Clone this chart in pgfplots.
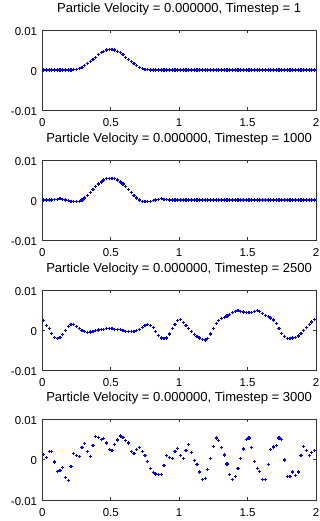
\documentclass[border=0pt]{standalone}
\usepackage{pgfplots}
\pgfplotsset{compat=1.18}
\usepackage{fontspec}
\setmainfont{Liberation Sans}
\pgfplotsset{
  octstyle/.style={
    scale only axis, width=273.7bp, height=80bp,
    xmin=0, xmax=2, ymin=-0.01, ymax=0.01,
    xtick={0,0.5,1,1.5,2}, xticklabels={0,0.5,1,1.5,2},
    ytick={-0.01,0,0.01}, yticklabels={-0.01,0,0.01},
    tick align=inside, major tick length=3bp,
    axis line style={line width=0.5bp, black!80},
    every tick/.style={black!80, line width=0.5bp},
    tick label style={font=\fontsize{11.5}{12}\selectfont, inner sep=0pt},
    xticklabel style={yshift=-8bp},
    yticklabel style={xshift=-5bp, yshift=-1.5bp},
    title style={font=\fontsize{13.1}{14}\selectfont, at={(0.5,1)}, anchor=base, yshift=11.5bp, inner sep=0pt},
    scaled y ticks=false,
    clip=false,
  },
  ptstyle/.style={only marks, mark=+, color=blue, mark size=1.6bp, mark options={line width=1.2bp}},
}
\begin{document}
\begin{tikzpicture}
\path[use as bounding box] (0,0) rectangle (320bp,-521bp);
% ---------------- plot 1
\begin{axis}[octstyle, at={(42.3bp,-30bp)}, anchor=north west,
  title={Particle Velocity = 0.000000, Timestep = 1}]
\addplot[ptstyle] coordinates {
(0.01,0)(0.03,0)(0.05,0)(0.07,0)(0.09,0)(0.11,0)(0.13,0)(0.15,0)(0.17,0)(0.19,0)
(0.21,0.0000)(0.23,0.0001)(0.25,0.0002)(0.27,0.0004)(0.29,0.0007)(0.31,0.0011)(0.33,0.0016)(0.35,0.0021)(0.37,0.0027)(0.39,0.0032)
(0.41,0.0038)(0.43,0.0043)(0.45,0.0047)(0.47,0.0050)(0.49,0.0052)(0.51,0.0052)(0.53,0.0050)(0.55,0.0047)(0.57,0.0043)(0.59,0.0038)
(0.61,0.0032)(0.63,0.0027)(0.65,0.0021)(0.67,0.0016)(0.69,0.0011)(0.71,0.0007)(0.73,0.0004)(0.75,0.0002)(0.77,0.0001)(0.79,0.0000)
(0.81,0)(0.83,0)(0.85,0)(0.87,0)(0.89,0)(0.91,0)(0.93,0)(0.95,0)(0.97,0)(0.99,0)
(1.01,0)(1.03,0)(1.05,0)(1.07,0)(1.09,0)(1.11,0)(1.13,0)(1.15,0)(1.17,0)(1.19,0)
(1.21,0)(1.23,0)(1.25,0)(1.27,0)(1.29,0)(1.31,0)(1.33,0)(1.35,0)(1.37,0)(1.39,0)
(1.41,0)(1.43,0)(1.45,0)(1.47,0)(1.49,0)(1.51,0)(1.53,0)(1.55,0)(1.57,0)(1.59,0)
(1.61,0)(1.63,0)(1.65,0)(1.67,0)(1.69,0)(1.71,0)(1.73,0)(1.75,0)(1.77,0)(1.79,0)
(1.81,0)(1.83,0)(1.85,0)(1.87,0)(1.89,0)(1.91,0)(1.93,0)(1.95,0)(1.97,0)(1.99,0)
};
\end{axis}
% ---------------- plot 2
\begin{axis}[octstyle, at={(42.3bp,-160bp)}, anchor=north west,
  title={Particle Velocity = 0.000000, Timestep = 1000}]
\addplot[ptstyle] coordinates {
(0.01,0)(0.03,0)(0.05,0)(0.07,0)(0.09,0.0001)(0.11,0.0002)(0.13,0.0003)(0.15,0.0002)(0.17,0.0000)(0.19,-0.0002)
(0.21,-0.0003)(0.23,-0.0004)(0.25,-0.0004)(0.27,-0.0003)(0.29,0.0000)(0.31,0.0005)(0.33,0.0011)(0.35,0.0018)(0.37,0.0026)(0.39,0.0033)
(0.41,0.0040)(0.43,0.0045)(0.45,0.0050)(0.47,0.0053)(0.49,0.0054)(0.51,0.0054)(0.53,0.0053)(0.55,0.0050)(0.57,0.0045)(0.59,0.0040)
(0.61,0.0033)(0.63,0.0026)(0.65,0.0018)(0.67,0.0011)(0.69,0.0005)(0.71,0.0000)(0.73,-0.0003)(0.75,-0.0004)(0.77,-0.0004)(0.79,-0.0003)
(0.81,-0.0002)(0.83,0.0000)(0.85,0.0002)(0.87,0.0003)(0.89,0.0002)(0.91,0.0001)(0.93,0)(0.95,0)(0.97,0)(0.99,0)
(1.01,0)(1.03,0)(1.05,0)(1.07,0)(1.09,0)(1.11,0)(1.13,0)(1.15,0)(1.17,0)(1.19,0)
(1.21,0)(1.23,0)(1.25,0)(1.27,0)(1.29,0)(1.31,0)(1.33,0)(1.35,0)(1.37,0)(1.39,0)
(1.41,0)(1.43,0)(1.45,0)(1.47,0)(1.49,0)(1.51,0)(1.53,0)(1.55,0)(1.57,0)(1.59,0)
(1.61,0)(1.63,0)(1.65,0)(1.67,0)(1.69,0)(1.71,0)(1.73,0)(1.75,0)(1.77,0)(1.79,0)
(1.81,0)(1.83,0)(1.85,0)(1.87,0)(1.89,0)(1.91,0)(1.93,0)(1.95,0)(1.97,0)(1.99,0)
};
\end{axis}
% ---------------- plot 3
\begin{axis}[octstyle, at={(42.3bp,-290bp)}, anchor=north west,
  title={Particle Velocity = 0.000000, Timestep = 2500}]
\addplot[ptstyle] coordinates {
(0.01,0.0023)(0.03,0.0012)(0.05,0.0003)(0.07,-0.0009)(0.09,-0.0019)(0.11,-0.0021)(0.13,-0.0018)(0.15,-0.0011)(0.17,-0.0001)(0.19,0.0009)
(0.21,0.0014)(0.23,0.0014)(0.25,0.0009)(0.27,0.0003)(0.29,-0.0002)(0.31,-0.0004)(0.33,-0.0006)(0.35,-0.0005)(0.37,-0.0003)(0.39,-0.0001)
(0.41,0.0000)(0.43,0.0001)(0.45,0.0002)(0.47,0.0003)(0.49,0.0003)(0.51,0.0003)(0.53,0.0002)(0.55,0.0002)(0.57,0.0001)(0.59,-0.0001)
(0.61,-0.0003)(0.63,-0.0004)(0.65,-0.0004)(0.67,-0.0004)(0.69,-0.0002)(0.71,0.0002)(0.73,0.0007)(0.75,0.0011)(0.77,0.0013)(0.79,0.0011)
(0.81,0.0006)(0.83,-0.0003)(0.85,-0.0013)(0.87,-0.0020)(0.89,-0.0022)(0.91,-0.0020)(0.93,-0.0010)(0.95,0.0003)(0.97,0.0014)(0.99,0.0023)
(1.01,0.0026)(1.03,0.0019)(1.05,0.0012)(1.07,0.0004)(1.09,-0.0004)(1.11,-0.0011)(1.13,-0.0016)(1.15,-0.0020)(1.17,-0.0023)(1.19,-0.0025)
(1.21,-0.0021)(1.23,-0.0010)(1.25,0.0004)(1.27,0.0017)(1.29,0.0024)(1.31,0.0029)(1.33,0.0032)(1.35,0.0035)(1.37,0.0039)(1.39,0.0043)
(1.41,0.0046)(1.43,0.0048)(1.45,0.0046)(1.47,0.0045)(1.49,0.0044)(1.51,0.0044)(1.53,0.0044)(1.55,0.0046)(1.57,0.0048)(1.59,0.0047)
(1.61,0.0042)(1.63,0.0036)(1.65,0.0033)(1.67,0.0030)(1.69,0.0025)(1.71,0.0016)(1.73,0.0004)(1.75,-0.0008)(1.77,-0.0017)(1.79,-0.0021)
(1.81,-0.0021)(1.83,-0.0020)(1.85,-0.0018)(1.87,-0.0015)(1.89,-0.0009)(1.91,-0.0001)(1.93,0.0006)(1.95,0.0013)(1.97,0.0020)(1.99,0.0026)
};
\end{axis}
% ---------------- plot 4
\begin{axis}[octstyle, height=81bp, at={(42.3bp,-419bp)}, anchor=north west,
  title={Particle Velocity = 0.000000, Timestep = 3000}]
\addplot[ptstyle] coordinates {
(0.01,0.0012)(0.03,0.0004)(0.05,0.0019)(0.07,0.0020)(0.09,-0.0006)(0.11,-0.0030)(0.13,-0.0028)(0.15,-0.0020)(0.17,-0.0044)(0.19,-0.0051)
(0.21,-0.0017)(0.23,0.0015)(0.25,0.0010)(0.27,0.0007)(0.29,0.0029)(0.31,0.0040)(0.33,0.0019)(0.35,0.0008)(0.37,0.0035)(0.39,0.0057)
(0.41,0.0055)(0.43,0.0049)(0.45,0.0051)(0.47,0.0041)(0.49,0.0024)(0.51,0.0022)(0.53,0.0037)(0.55,0.0048)(0.57,0.0058)(0.59,0.0054)
(0.61,0.0047)(0.63,0.0041)(0.65,0.0020)(0.67,0.0015)(0.69,0.0024)(0.71,0.0030)(0.73,0.0020)(0.75,0.0009)(0.77,-0.0004)(0.79,-0.0022)
(0.81,-0.0033)(0.83,-0.0036)(0.85,-0.0038)(0.87,-0.0037)(0.89,-0.0014)(0.91,0.0009)(0.93,0.0004)(0.95,0.0002)(0.97,0.0019)(0.99,0.0027)
(1.01,0.0009)(1.03,0.0002)(1.05,0.0022)(1.07,0.0037)(1.09,0.0018)(1.11,-0.0002)(1.13,-0.0013)(1.15,-0.0031)(1.17,-0.0050)(1.19,-0.0047)
(1.21,-0.0024)(1.23,0.0002)(1.25,0.0033)(1.27,0.0053)(1.29,0.0046)(1.31,0.0029)(1.33,0.0011)(1.35,-0.0011)(1.37,-0.0038)(1.39,-0.0049)
(1.41,-0.0042)(1.43,-0.0023)(1.45,0.0002)(1.47,0.0026)(1.49,0.0049)(1.51,0.0053)(1.53,0.0029)(1.55,-0.0004)(1.57,-0.0023)(1.59,-0.0030)
(1.61,-0.0050)(1.63,-0.0050)(1.65,-0.0013)(1.67,0.0024)(1.69,0.0031)(1.71,0.0034)(1.73,0.0053)(1.75,0.0050)(1.77,-0.0001)(1.79,-0.0042)
(1.81,-0.0041)(1.83,-0.0031)(1.85,-0.0040)(1.87,-0.0031)(1.89,0.0009)(1.91,0.0033)(1.93,0.0022)(1.95,0.0009)(1.97,0.0018)(1.99,0.0022)
};
\end{axis}
\end{tikzpicture}
\end{document}
